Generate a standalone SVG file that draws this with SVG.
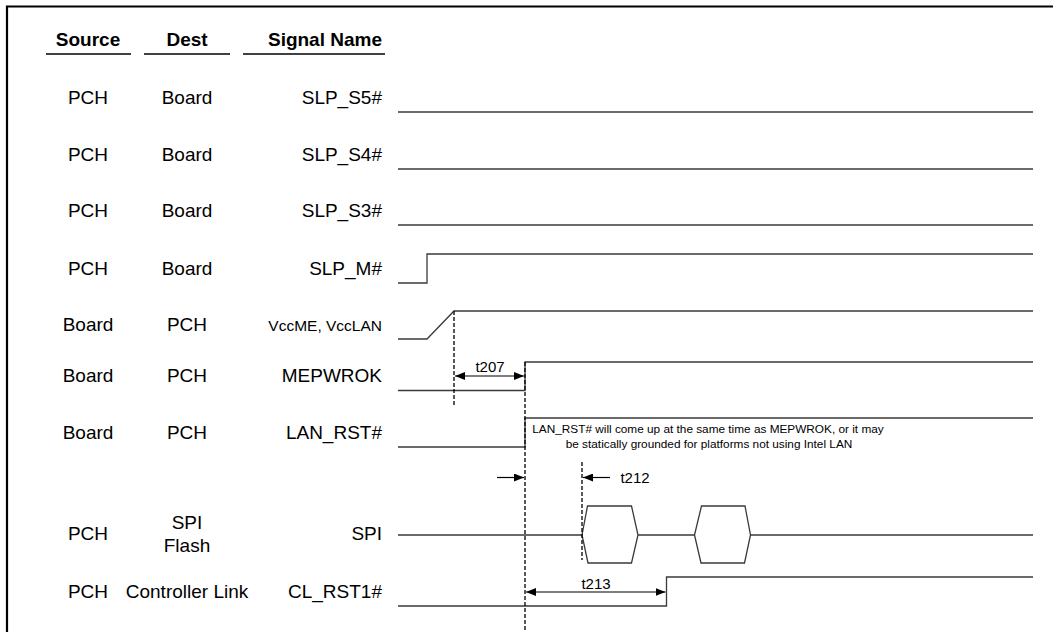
<svg xmlns="http://www.w3.org/2000/svg" width="1053" height="632" viewBox="0 0 1053 632">
<defs>
<marker id="ah" viewBox="0 0 10 8" refX="10" refY="4" markerWidth="10" markerHeight="8" markerUnits="userSpaceOnUse" orient="auto-start-reverse">
<path d="M0,0 L10,4 L0,8 Z" fill="#000"/>
</marker>
</defs>
<style>
text{font-family:"Liberation Sans",Arial,sans-serif;fill:#000}
.lbl{font-size:19px}
.c{text-anchor:middle}
.r{text-anchor:end}
.hd{font-size:19px;font-weight:bold}
.sm{font-size:15.5px}
.note{font-size:11.8px;text-anchor:middle}
.tm{font-size:15px;text-anchor:middle}
.wave{fill:none;stroke:#3a3a3a;stroke-width:1.3}
.dash{fill:none;stroke:#000;stroke-width:1.3;stroke-dasharray:4,2}
.arr{fill:none;stroke:#000;stroke-width:1.2}
.ul{stroke:#000;stroke-width:1.6}
</style>
<rect width="1053" height="632" fill="#fff"/>
<g id="frame">
<path d="M7,632 V6.5 H1053" fill="none" stroke="#000" stroke-width="2.2"/>
</g>
<g id="header">
<text class="hd c" x="88" y="46">Source</text>
<text class="hd c" x="187" y="46">Dest</text>
<text class="hd r" x="382" y="46">Signal Name</text>
<line class="ul" x1="46" y1="54" x2="131" y2="54"/>
<line class="ul" x1="144" y1="54" x2="230" y2="54"/>
<line class="ul" x1="243" y1="54" x2="385" y2="54"/>
</g>
<g id="row-slp-s5">
<text class="lbl c" x="88" y="104">PCH</text>
<text class="lbl c" x="187" y="104">Board</text>
<text class="lbl r" x="382" y="104">SLP_S5#</text>
<path class="wave" d="M398,112 H1033"/>
</g>
<g id="row-slp-s4">
<text class="lbl c" x="88" y="161">PCH</text>
<text class="lbl c" x="187" y="161">Board</text>
<text class="lbl r" x="382" y="161">SLP_S4#</text>
<path class="wave" d="M398,169 H1033"/>
</g>
<g id="row-slp-s3">
<text class="lbl c" x="88" y="217">PCH</text>
<text class="lbl c" x="187" y="217">Board</text>
<text class="lbl r" x="382" y="217">SLP_S3#</text>
<path class="wave" d="M398,225 H1033"/>
</g>
<g id="row-slp-m">
<text class="lbl c" x="88" y="275">PCH</text>
<text class="lbl c" x="187" y="275">Board</text>
<text class="lbl r" x="382" y="275">SLP_M#</text>
<path class="wave" d="M398,283 H427 V254 H1033"/>
</g>
<g id="row-vccme">
<text class="lbl c" x="88" y="331">Board</text>
<text class="lbl c" x="187" y="331">PCH</text>
<text class="sm r" x="382" y="331">VccME, VccLAN</text>
<path class="wave" d="M398,339 H427 L454,311 H1033"/>
</g>
<g id="row-mepwrok">
<text class="lbl c" x="88" y="382">Board</text>
<text class="lbl c" x="187" y="382">PCH</text>
<text class="lbl r" x="382" y="382">MEPWROK</text>
<path class="wave" d="M398,390.5 H525 V362 H1033"/>
</g>
<g id="row-lan-rst">
<text class="lbl c" x="88" y="439">Board</text>
<text class="lbl c" x="187" y="439">PCH</text>
<text class="lbl r" x="382" y="439">LAN_RST#</text>
<path class="wave" d="M398,447 H525 V418 H1033"/>
<text class="note" x="708" y="433">LAN_RST# will come up at the same time as MEPWROK, or it may</text>
<text class="note" x="709" y="447.5">be statically grounded for platforms not using Intel LAN</text>
</g>
<g id="row-spi">
<text class="lbl c" x="88" y="540">PCH</text>
<text class="lbl c" x="187" y="529">SPI</text>
<text class="lbl c" x="187" y="552">Flash</text>
<text class="lbl r" x="382" y="540">SPI</text>
<path class="wave" d="M398,535 H582 M638,535 H694.5 M750.5,535 H1033"/>
<path class="wave" d="M582,535 L587.5,506 H631.5 L638,535 L631.5,563 H588 Z"/>
<path class="wave" d="M694.5,535 L701.5,506 H745 L750.5,535 L744.5,563 H701 Z"/>
</g>
<g id="row-cl-rst1">
<text class="lbl c" x="88" y="598">PCH</text>
<text class="lbl c" x="187" y="598">Controller Link</text>
<text class="lbl r" x="382" y="598">CL_RST1#</text>
<path class="wave" d="M398,606 H666.5 V577 H1033"/>
</g>
<g id="connectors">
<line class="dash" x1="454" y1="311" x2="454" y2="407" stroke-width="2"/>
<line class="dash" x1="525" y1="362" x2="525" y2="630"/>
<line class="dash" x1="582" y1="462" x2="582" y2="560"/>
<line class="arr" x1="455" y1="376" x2="524" y2="376" marker-start="url(#ah)" marker-end="url(#ah)"/>
<text class="tm" x="490" y="372">t207</text>
<line class="arr" x1="497" y1="477.5" x2="524" y2="477.5" marker-end="url(#ah)"/>
<line class="arr" x1="610" y1="477.5" x2="583" y2="477.5" marker-end="url(#ah)"/>
<text class="tm" x="635" y="483">t212</text>
<line class="arr" x1="526" y1="592" x2="665.5" y2="592" marker-start="url(#ah)" marker-end="url(#ah)"/>
<text class="tm" x="596" y="589">t213</text>
</g>
</svg>
